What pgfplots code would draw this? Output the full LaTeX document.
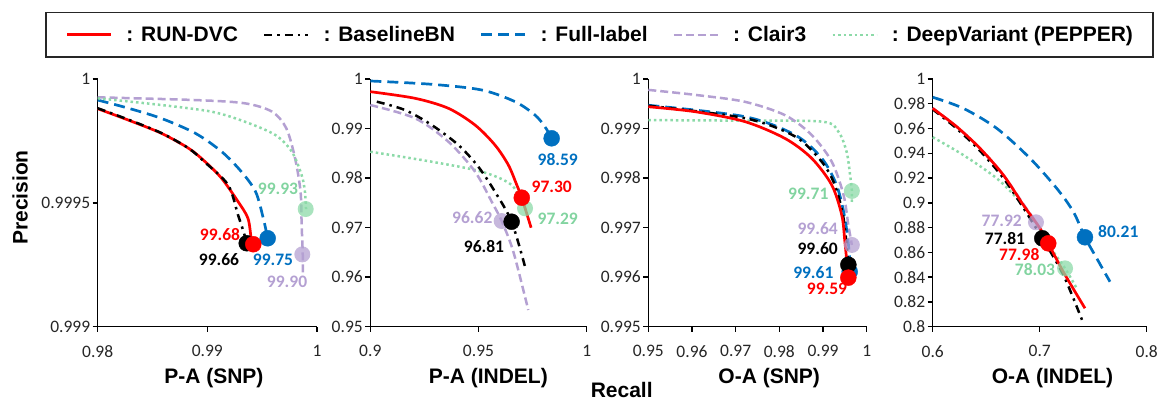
\documentclass[border=0pt]{standalone}
\usepackage{fontspec}
\setmainfont{Carlito}
\newfontfamily\calibri{Carlito}
\newfontfamily\arial{Liberation Sans}
\usepackage{pgfplots}
\pgfplotsset{compat=1.18}

\definecolor{rred}{RGB}{255,0,0}
\definecolor{fblue}{RGB}{0,112,192}
\definecolor{cpurple}{RGB}{180,160,210}
\definecolor{dgreen}{RGB}{140,218,168}
\definecolor{dgreentxt}{RGB}{130,212,160}

\tikzset{lbl/.style={font=\calibri\bfseries\fontsize{17.5}{20}\selectfont}}
\newcommand{\ticktxt}[1]{{\calibri\fontsize{17.5}{20}\selectfont\pgfmathprintnumber{#1}}}

\pgfplotsset{
  panel/.style={
    scale only axis, height=247.7pt, clip=false,
    axis x line*=bottom, axis y line*=left,
    axis line style={-, line width=1.4pt, black},
    tick style={line width=1.4pt, black},
    major tick length=5pt, tick align=outside,
    scaled ticks=false,
    /pgf/number format/fixed, /pgf/number format/precision=4,
    /pgf/number format/assume math mode=true,
    xticklabel={\ticktxt{\tick}}, yticklabel={\ticktxt{\tick}},
    tick label style={text=black!85},
    xticklabel style={yshift=-10pt},
    yticklabel style={xshift=1pt},
    label style={font=\arial\bfseries\fontsize{21}{25}\selectfont},
  },
  runline/.style={color=rred, line width=2.7pt, smooth, no markers},
  baseline/.style={color=black, line width=2.5pt, smooth, no markers,
    dash pattern=on 8pt off 5pt on 2.5pt off 5pt},
  fullline/.style={color=fblue, line width=2.7pt, smooth, no markers,
    dash pattern=on 11pt off 6pt},
  clairline/.style={color=cpurple, line width=2.5pt, smooth, no markers,
    dash pattern=on 8pt off 4pt},
  dvline/.style={color=dgreen, line width=2.5pt, smooth, no markers,
    dash pattern=on 2.5pt off 3pt},
  dot/.style={only marks, mark=*, mark size=8pt, forget plot},
}

\begin{document}
\begin{tikzpicture}

% ---------------- P-A (SNP)
\begin{axis}[panel, at={(97.7pt,74.3pt)}, anchor=south west, width=219.3pt,
  xmin=0.98, xmax=1, ymin=0.999, ymax=1,
  xtick={0.98,0.99,1}, ytick={0.999,0.9995,1},
  xlabel={P-A (SNP)}, xlabel style={at={(axis description cs:0.530,-0.2293)}, anchor=base},
  ylabel={Precision}, ylabel style={at={(axis description cs:-0.3543,0.5216)}, anchor=center},
  legend columns=5,
  legend image code/.code={\draw[#1] (0pt,0pt) -- (44pt,0pt);},
  legend style={at={(axis description cs:-0.2403,1.2717)}, anchor=north west,
    draw=black!85, line width=1.5pt, inner xsep=20pt, inner ysep=14pt,
    font=\arial\bfseries\fontsize{21}{25}\selectfont,
    nodes={inner sep=0pt},
    /tikz/every odd column/.append style={column sep=14pt},
    /tikz/every even column/.append style={column sep=25pt}},
]
\addplot[runline] coordinates {(0.9800,0.999880) (0.9828,0.999834) (0.9858,0.999781) (0.9883,0.999720) (0.9898,0.999666) (0.9913,0.999599) (0.9928,0.999505) (0.9937,0.999438) (0.9940,0.999357) (0.9942,0.999333)};
\addlegendentry{: RUN-DVC}
\addplot[baseline] coordinates {(0.9800,0.999882) (0.9828,0.999836) (0.9858,0.999782) (0.9883,0.999720) (0.9898,0.999663) (0.9919,0.999572) (0.9928,0.999451) (0.9933,0.999384) (0.9936,0.999337)};
\addlegendentry{: BaselineBN}
\addplot[fullline] coordinates {(0.9800,0.999915) (0.9828,0.999882) (0.9858,0.999841) (0.9889,0.999781) (0.9913,0.999707) (0.9931,0.999626) (0.9944,0.999545) (0.9951,0.999438) (0.9955,0.999357)};
\addlegendentry{: Full-label}
\addplot[clairline] coordinates {(0.9800,0.999926) (0.9889,0.999915) (0.9934,0.999902) (0.9959,0.999868) (0.9972,0.999801) (0.9980,0.999680) (0.9985,0.999545) (0.9986,0.999410) (0.9987,0.999292) (0.9987,0.999200)};
\addlegendentry{: Clair3}
\addplot[dvline] coordinates {(0.9800,0.999922) (0.9858,0.999895) (0.9904,0.999868) (0.9934,0.999828) (0.9962,0.999774) (0.9977,0.999707) (0.9986,0.999612) (0.9989,0.999545) (0.9990,0.999475)};
\addlegendentry{: DeepVariant (PEPPER)}
\addplot[dot, cpurple, fill opacity=0.75, draw opacity=0] coordinates {(0.99866,0.999292)};
\addplot[dot, dgreen, fill opacity=0.75, draw opacity=0] coordinates {(0.99897,0.999475)};
\addplot[dot, fblue] coordinates {(0.9955,0.999357)};
\addplot[dot, black] coordinates {(0.99359,0.999337)};
\addplot[dot, rred] coordinates {(0.99419,0.999333)};
\node[lbl, dgreentxt] at (axis cs:0.99644,0.999556) {99.93};
\node[lbl, rred] at (axis cs:0.99115,0.999374) {99.68};
\node[lbl, black] at (axis cs:0.99106,0.999269) {99.66};
\node[lbl, fblue] at (axis cs:0.99599,0.999269) {99.75};
\node[lbl, cpurple] at (axis cs:0.99727,0.99918) {99.90};
\end{axis}

% ---------------- P-A (INDEL)
\begin{axis}[panel, at={(370.3pt,74.3pt)}, anchor=south west, width=216.4pt,
  xmin=0.9, xmax=1, ymin=0.95, ymax=1,
  xtick={0.9,0.95,1}, ytick={0.95,0.96,0.97,0.98,0.99,1},
  xlabel={P-A (INDEL)}, xlabel style={at={(axis description cs:0.5453,-0.2293)}, anchor=base},
]
\addplot[fullline] coordinates {(0.9000,0.99960) (0.9284,0.99893) (0.9515,0.99778) (0.9669,0.99542) (0.9761,0.99273) (0.9807,0.99037) (0.9838,0.98803)};
\addplot[dvline] coordinates {(0.9000,0.98532) (0.9284,0.98330) (0.9515,0.98129) (0.9653,0.97860) (0.9715,0.97390)};
\addplot[clairline] coordinates {(0.9000,0.99475) (0.9207,0.99207) (0.9361,0.98734) (0.9484,0.98129) (0.9561,0.97523) (0.9607,0.97133) (0.9661,0.96514) (0.9730,0.95337)};
\addplot[baseline] coordinates {(0.9030,0.99542) (0.9160,0.99374) (0.9284,0.99071) (0.9407,0.98668) (0.9499,0.98230) (0.9576,0.97725) (0.9653,0.97119) (0.9715,0.96211)};
\addplot[runline] coordinates {(0.9000,0.99744) (0.9207,0.99610) (0.9361,0.99408) (0.9484,0.99071) (0.9576,0.98668) (0.9638,0.98264) (0.9677,0.97860) (0.9700,0.97604) (0.9743,0.96998)};
\addplot[dot, cpurple, fill opacity=0.75, draw opacity=0] coordinates {(0.9607,0.97133)};
\addplot[dot, dgreen, fill opacity=0.75, draw opacity=0] coordinates {(0.9715,0.9739)};
\addplot[dot, fblue] coordinates {(0.9838,0.98803)};
\addplot[dot, black] coordinates {(0.9653,0.97119)};
\addplot[dot, rred] coordinates {(0.9700,0.97604)};
\node[lbl, fblue] at (axis cs:0.98660,0.98365) {98.59};
\node[lbl, rred] at (axis cs:0.98383,0.97826) {97.30};
\node[lbl, dgreentxt] at (axis cs:0.98660,0.97174) {97.29};
\node[lbl, cpurple] at (axis cs:0.94714,0.97200) {96.62};
\node[lbl, black] at (axis cs:0.95254,0.96615) {96.81};
\end{axis}

% ---------------- O-A (SNP)
\begin{axis}[panel, at={(648.3pt,74.3pt)}, anchor=south west, width=218.4pt,
  xmin=0.95, xmax=1, ymin=0.995, ymax=1,
  xtick={0.95,0.96,0.97,0.98,0.99,1}, ytick={0.995,0.996,0.997,0.998,0.999,1},
  xlabel={O-A (SNP)}, xlabel style={at={(axis description cs:0.5536,-0.2293)}, anchor=base},
]
\addplot[dvline] coordinates {(0.9500,0.99917) (0.9700,0.99916) (0.9897,0.99914) (0.9935,0.99894) (0.9954,0.99853) (0.9962,0.99806) (0.9966,0.99774) (0.9966,0.99750)};
\addplot[clairline] coordinates {(0.9500,0.99978) (0.9607,0.99968) (0.9721,0.99954) (0.9813,0.99927) (0.9874,0.99887) (0.9920,0.99833) (0.9947,0.99766) (0.9958,0.99705) (0.9966,0.99665)};
\addplot[fullline] coordinates {(0.9500,0.99947) (0.9721,0.99924) (0.9836,0.99887) (0.9897,0.99840) (0.9931,0.99786) (0.9950,0.99719) (0.9961,0.99640) (0.9962,0.99581)};
\addplot[baseline] coordinates {(0.9500,0.99946) (0.9721,0.99921) (0.9836,0.99884) (0.9897,0.99833) (0.9927,0.99786) (0.9947,0.99719) (0.9958,0.99625)};
\addplot[runline] coordinates {(0.9500,0.99944) (0.9607,0.99934) (0.9721,0.99914) (0.9813,0.99880) (0.9874,0.99840) (0.9920,0.99786) (0.9943,0.99725) (0.9950,0.99672) (0.9958,0.99599)};
\addplot[dot, cpurple, fill opacity=0.75, draw opacity=0] coordinates {(0.9966,0.99665)};
\addplot[dot, dgreen, fill opacity=0.75, draw opacity=0] coordinates {(0.9966,0.99774)};
\addplot[dot, fblue] coordinates {(0.9961,0.99611)};
\addplot[dot, black] coordinates {(0.9958,0.99625)};
\addplot[dot, rred] coordinates {(0.9958,0.99599)};
\node[lbl, dgreentxt] at (axis cs:0.98663,0.99768) {99.71};
\node[lbl, cpurple] at (axis cs:0.98878,0.99699) {99.64};
\node[lbl, black] at (axis cs:0.98878,0.99657) {99.60};
\node[lbl, fblue] at (axis cs:0.98778,0.99610) {99.61};
\node[lbl, rred] at (axis cs:0.99091,0.99576) {99.59};
\end{axis}

% ---------------- O-A (INDEL)
\begin{axis}[panel, at={(932.7pt,74.3pt)}, anchor=south west, width=214pt,
  xmin=0.6, xmax=0.8, ymin=0.8, ymax=1,
  xtick={0.6,0.7,0.8},
  ytick={0.8,0.82,0.84,0.86,0.88,0.9,0.92,0.94,0.96,0.98,1},
  xlabel={O-A (INDEL)}, xlabel style={at={(axis description cs:0.5598,-0.2293)}, anchor=base},
]
\addplot[fullline] coordinates {(0.6000,0.9853) (0.6286,0.9763) (0.6598,0.9602) (0.6909,0.9360) (0.7159,0.9117) (0.7314,0.8929) (0.7423,0.8722) (0.7533,0.8552) (0.7657,0.8363)};
\addplot[dvline] coordinates {(0.6000,0.9530) (0.6286,0.9386) (0.6598,0.9198) (0.6816,0.9009) (0.6972,0.8821) (0.7127,0.8606) (0.7237,0.8471) (0.7346,0.8310)};
\addplot[clairline] coordinates {(0.6000,0.9765) (0.6224,0.9615) (0.6442,0.9440) (0.6660,0.9225) (0.6847,0.8990) (0.6965,0.8843) (0.7100,0.8640)};
\addplot[baseline] coordinates {(0.6000,0.9755) (0.6224,0.9600) (0.6442,0.9420) (0.6660,0.9200) (0.6847,0.8960) (0.7024,0.8714) (0.7220,0.8420) (0.7402,0.8040)};
\addplot[runline] coordinates {(0.6000,0.9763) (0.6224,0.9615) (0.6442,0.9440) (0.6660,0.9225) (0.6847,0.8983) (0.7003,0.8794) (0.7080,0.8673) (0.7220,0.8444) (0.7423,0.8149)};
\addplot[dot, cpurple, fill opacity=0.75, draw opacity=0] coordinates {(0.6965,0.8843)};
\addplot[dot, dgreen, fill opacity=0.75, draw opacity=0] coordinates {(0.7237,0.8471)};
\addplot[dot, fblue] coordinates {(0.7423,0.8722)};
\addplot[dot, black] coordinates {(0.7024,0.8714)};
\addplot[dot, rred] coordinates {(0.7080,0.8673)};
\node[lbl, cpurple] at (axis cs:0.66449,0.88559) {77.92};
\node[lbl, black] at (axis cs:0.66757,0.87138) {77.81};
\node[lbl, rred] at (axis cs:0.68093,0.85789) {77.98};
\node[lbl, dgreentxt] at (axis cs:0.69561,0.84578) {78.03};
\node[lbl, fblue] at (axis cs:0.77346,0.87671) {80.21};
\end{axis}

\node[anchor=base, font=\arial\bfseries\fontsize{21}{25}\selectfont] at (621.7pt,3pt) {Recall};

\pgfresetboundingbox
\path (0pt,0pt) rectangle (1159pt,401pt);
\end{tikzpicture}
\end{document}
